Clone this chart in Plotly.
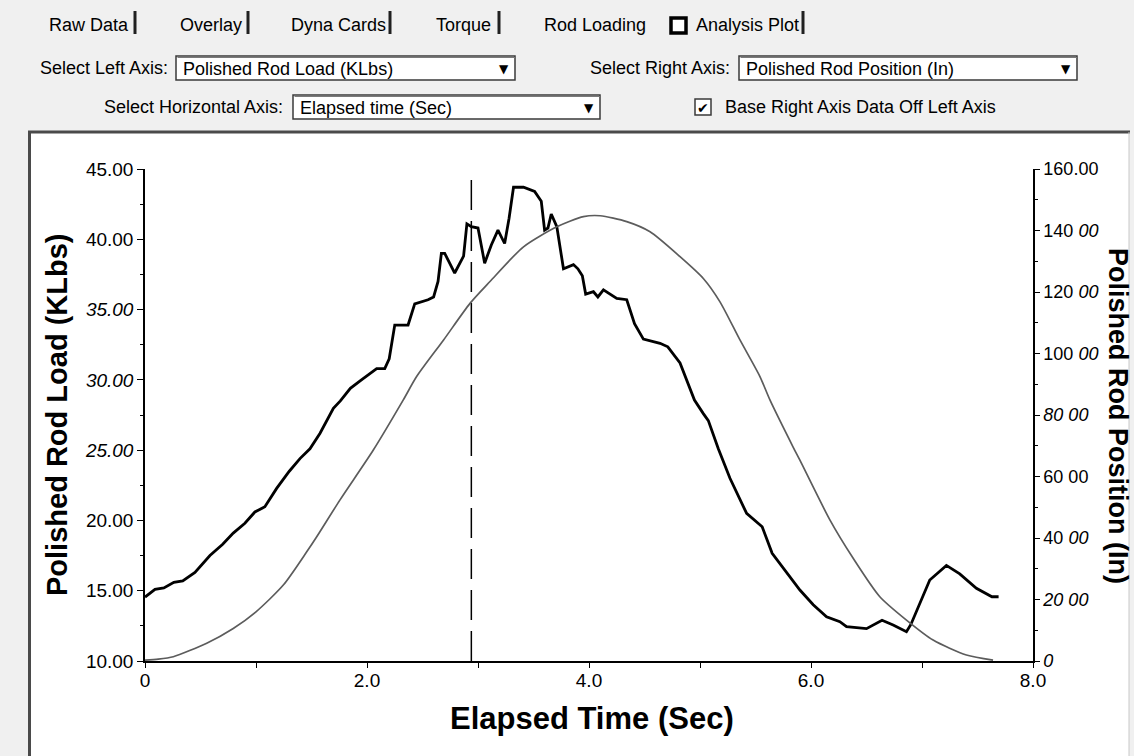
import plotly.graph_objects as go

# ---------------- data ----------------
time_load = [0.00, 0.09, 0.17, 0.26, 0.34, 0.45, 0.585, 0.70, 0.795, 0.90, 0.99, 1.08, 1.186, 1.30,
             1.396, 1.486, 1.577, 1.697, 1.76, 1.85, 1.95, 2.087, 2.16, 2.20, 2.25, 2.37, 2.43, 2.55,
             2.60, 2.64, 2.67, 2.70, 2.79, 2.87, 2.90, 2.94, 3.00, 3.06, 3.12, 3.18, 3.24, 3.28, 3.32,
             3.41, 3.51, 3.57, 3.60, 3.63, 3.66, 3.71, 3.77, 3.86, 3.90, 3.94, 3.97, 4.04, 4.08, 4.13,
             4.25, 4.34, 4.41, 4.49, 4.64, 4.71, 4.82, 4.91, 4.95, 5.03, 5.075, 5.165, 5.27, 5.42,
             5.56, 5.65, 5.78, 5.90, 6.02, 6.14, 6.26, 6.32, 6.50, 6.64, 6.74, 6.86, 6.90, 7.07, 7.22,
             7.34, 7.49, 7.63, 7.69]
load_klbs = [14.55, 15.1, 15.2, 15.6, 15.7, 16.3, 17.5, 18.3, 19.1, 19.8, 20.6, 20.97, 22.28, 23.5,
             24.4, 25.1, 26.2, 27.97, 28.5, 29.4, 30.0, 30.8, 30.8, 31.5, 33.9, 33.9, 35.4, 35.7,
             35.9, 37.0, 39.0, 39.0, 37.6, 38.8, 41.1, 40.9, 40.8, 38.3, 39.6, 40.65, 39.7, 41.5, 43.7,
             43.7, 43.4, 42.7, 40.65, 40.8, 41.8, 40.9, 37.9, 38.2, 37.9, 37.4, 36.1, 36.27, 35.9, 36.4,
             35.8, 35.7, 34.0, 32.9, 32.6, 32.35, 31.2, 29.27, 28.56, 27.6, 27.1, 25.1, 23.0, 20.5,
             19.55, 17.66, 16.3, 15.05, 14.0, 13.15, 12.8, 12.44, 12.3, 12.9, 12.56, 12.08, 12.6, 15.76, 16.8,
             16.2, 15.17, 14.57, 14.57]

time_pos = [0.00, 0.12, 0.255, 0.556, 0.795, 1.00, 1.246, 1.457, 1.547, 1.757, 2.057, 2.327, 2.447, 2.69,
            2.928, 3.108, 3.41, 3.71, 3.95, 4.10, 4.34, 4.55, 4.82, 5.03, 5.18, 5.36, 5.54, 5.63, 5.84,
            5.90, 6.17, 6.38, 6.62, 6.86, 7.10, 7.40, 7.64]
position_in = [0.3, 0.6, 1.4, 5.8, 10.6, 16.0, 24.7, 35.5, 40.4, 52.4, 68.6, 84.9, 92.5, 104.4,
               116.3, 123.4, 134.7, 141.2, 144.5, 144.8, 142.9, 139.6, 131.5, 124.4, 116.8, 104.4, 92.5, 84.9, 69.5,
               65.3, 45.9, 33.4, 20.9, 13.3, 6.8, 1.95, 0.3]

cursor_time = 2.94

x_ticks = [0, 2, 4, 6, 8]
x_tick_labels = ["0", "2.0", "4.0", "6.0", "8.0"]
left_ticks = [10, 15, 20, 25, 30, 35, 40, 45]
left_tick_labels = ["10.00", "15.00", "20.00", "<i>25.00</i>", "<i>30.00</i>", "<i>35.00</i>", "40.00", "45.00"]
right_ticks = [0, 20, 40, 60, 80, 100, 120, 140, 160]
right_tick_labels = ["<i>0</i>", "<i>20 00</i>", "40 <i>00</i>", "60 00", "<i>80 00</i>",
                     "100 <i>00</i>", "120 <i>00</i>", "140 <i>00</i>", "160.00"]

tabs = ["Raw Data", "Overlay", "Dyna Cards", "Torque", "Rod Loading", "Analysis Plot"]

# ---------------- layout geometry ----------------
W, H = 1134, 756
PL, PR, PT, PB = 145, 1033, 169, 661


def px(x):
    return (x - PL) / (PR - PL)


def py(y):
    return (PB - y) / (PB - PT)


UI_FONT = dict(family="Liberation Sans, Arial, sans-serif", size=18, color="#000000")
TICK_FONT = dict(family="Liberation Sans, Arial, sans-serif", size=19, color="#000000")
RTICK_FONT = dict(family="Liberation Sans, Arial, sans-serif", size=18, color="#000000")
TITLE_FONT = dict(family="Liberation Sans, Arial, sans-serif", size=29, color="#000000")

fig = go.Figure()
fig.add_trace(go.Scatter(x=time_pos, y=position_in, yaxis="y2", mode="lines",
                         line=dict(color="#5c5c5c", width=1.7, shape="spline", smoothing=0.7),
                         hoverinfo="skip", showlegend=False))
fig.add_trace(go.Scatter(x=time_load, y=load_klbs, mode="lines",
                         line=dict(color="#000000", width=2.8),
                         hoverinfo="skip", showlegend=False))
fig.add_trace(go.Scatter(x=[cursor_time, cursor_time], y=[10, 45], mode="lines",
                         line=dict(color="#000000", width=1.5, dash="30px,11px"),
                         hoverinfo="skip", showlegend=False))

shapes = []
annotations = []

# chart panel (white, sunken border)
shapes.append(dict(type="rect", xref="paper", yref="paper", layer="below",
                   x0=px(29), x1=px(1129), y0=py(H + 5), y1=py(132),
                   fillcolor="#ffffff", line=dict(width=0)))
shapes.append(dict(type="line", xref="paper", yref="paper", x0=px(28), x1=px(1130), y0=py(132), y1=py(132),
                   line=dict(color="#4a4a4a", width=3)))
shapes.append(dict(type="line", xref="paper", yref="paper", x0=px(29.5), x1=px(29.5), y0=py(132), y1=py(H + 5),
                   line=dict(color="#4a4a4a", width=3)))
shapes.append(dict(type="line", xref="paper", yref="paper", x0=px(1129), x1=px(1129), y0=py(132), y1=py(H + 5),
                   line=dict(color="#c8c8c8", width=1)))

# ---- tab row ----
tab_x = [47, 178, 289, 434, 542, 694]
bar_x = [135, 248, 390, 499, 803]
for t, x in zip(tabs, tab_x):
    annotations.append(dict(text=t, xref="paper", yref="paper", x=px(x), y=py(25),
                            xanchor="left", yanchor="middle", showarrow=False, font=UI_FONT))
for x in bar_x:
    shapes.append(dict(type="line", xref="paper", yref="paper", x0=px(x), x1=px(x), y0=py(11), y1=py(34),
                       line=dict(color="#202020", width=3)))
# focus square before "Analysis Plot"
shapes.append(dict(type="rect", xref="paper", yref="paper", x0=px(671), x1=px(686), y0=py(33), y1=py(18),
                   fillcolor="#ffffff", line=dict(color="#000000", width=3.5)))


# ---- combo boxes ----
def combo(label, label_right, x0, x1, yc, value):
    annotations.append(dict(text=label, xref="paper", yref="paper", x=px(label_right), y=py(yc),
                            xanchor="right", yanchor="middle", showarrow=False, font=UI_FONT))
    shapes.append(dict(type="rect", xref="paper", yref="paper", x0=px(x0), x1=px(x1),
                       y0=py(yc + 12), y1=py(yc - 12), fillcolor="#ffffff",
                       line=dict(color="#3a3a3a", width=1.5)))
    shapes.append(dict(type="line", xref="paper", yref="paper", x0=px(x0 + 1.5), x1=px(x1), y0=py(yc - 10.5),
                       y1=py(yc - 10.5), line=dict(color="#7a7a7a", width=1)))
    annotations.append(dict(text=value, xref="paper", yref="paper", x=px(x0 + 5), y=py(yc + 1),
                            xanchor="left", yanchor="middle", showarrow=False, font=UI_FONT))
    annotations.append(dict(text="▼", xref="paper", yref="paper", x=px(x1 - 11), y=py(yc + 1),
                            xanchor="center", yanchor="middle", showarrow=False,
                            font=dict(family="DejaVu Sans", size=12, color="#000000")))


combo("Select Left Axis:", 170, 176, 515, 68, "Polished Rod Load (KLbs)")
combo("Select Right Axis:", 732, 739, 1077, 68, "Polished Rod Position (In)")
combo("Select Horizontal Axis:", 285, 293, 600, 107, "Elapsed time (Sec)")

# check box
shapes.append(dict(type="rect", xref="paper", yref="paper", x0=px(695), x1=px(711), y0=py(115), y1=py(99),
                   fillcolor="#ffffff", line=dict(color="#3a3a3a", width=1.5)))
annotations.append(dict(text="✔", xref="paper", yref="paper", x=px(703), y=py(107.5),
                        xanchor="center", yanchor="middle", showarrow=False,
                        font=dict(family="DejaVu Sans", size=14, color="#000000")))
annotations.append(dict(text="Base Right Axis Data Off Left Axis", xref="paper", yref="paper",
                        x=px(723), y=py(107), xanchor="left", yanchor="middle", showarrow=False, font=UI_FONT))

# ---- axis titles ----
annotations.append(dict(text="<b>Polished Rod Load (KLbs)</b>", xref="paper", yref="paper",
                        x=px(57), y=py(415), textangle=-90, xanchor="center", yanchor="middle",
                        showarrow=False, font=TITLE_FONT))
annotations.append(dict(text="<b>Polished Rod Position (In)</b>", xref="paper", yref="paper",
                        x=px(1118), y=py(416), textangle=90, xanchor="center", yanchor="middle",
                        showarrow=False, font=dict(family="Liberation Sans, Arial, sans-serif", size=27, color="#000")))
annotations.append(dict(text="<b>Elapsed Time (Sec)</b>", xref="paper", yref="paper",
                        x=px(592), y=py(718), xanchor="center", yanchor="middle",
                        showarrow=False, font=dict(family="Liberation Sans, Arial, sans-serif", size=31, color="#000")))

fig.update_layout(
    width=W, height=H,
    margin=dict(l=PL, r=W - PR, t=PT, b=H - PB, pad=0),
    paper_bgcolor="#f0f0f0",
    plot_bgcolor="#ffffff",
    showlegend=False,
    shapes=shapes,
    annotations=annotations,
    xaxis=dict(range=[0, 8], tickmode="array", tickvals=x_ticks, ticktext=x_tick_labels,
               ticks="outside", ticklen=5, tickwidth=1.2, tickcolor="#000",
               minor=dict(tick0=0, dtick=1, ticks="outside", ticklen=5, tickwidth=1.2, tickcolor="#000"),
               showline=True, linecolor="#000", linewidth=2, showgrid=False, zeroline=False,
               tickfont=TICK_FONT, ticklabelstandoff=-4, fixedrange=True),
    yaxis=dict(range=[10, 45], tickmode="array", tickvals=left_ticks, ticktext=left_tick_labels,
               ticks="outside", ticklen=6, tickwidth=1.2, tickcolor="#000",
               minor=dict(tick0=10, dtick=2.5, ticks="outside", ticklen=3, tickwidth=1, tickcolor="#000"),
               showline=True, linecolor="#000", linewidth=1.5, showgrid=False, zeroline=False,
               tickfont=TICK_FONT, fixedrange=True),
    yaxis2=dict(range=[0, 160], overlaying="y", side="right", tickmode="array", tickvals=right_ticks,
                ticktext=right_tick_labels, ticks="outside", ticklen=5, tickwidth=1.2, tickcolor="#000",
                minor=dict(tick0=0, dtick=10, ticks="outside", ticklen=3, tickwidth=1, tickcolor="#000"),
                showline=True, linecolor="#000", linewidth=1.5, showgrid=False, zeroline=False,
                tickfont=RTICK_FONT, fixedrange=True),
)

fig.write_html("out.html", config={"displayModeBar": False})
